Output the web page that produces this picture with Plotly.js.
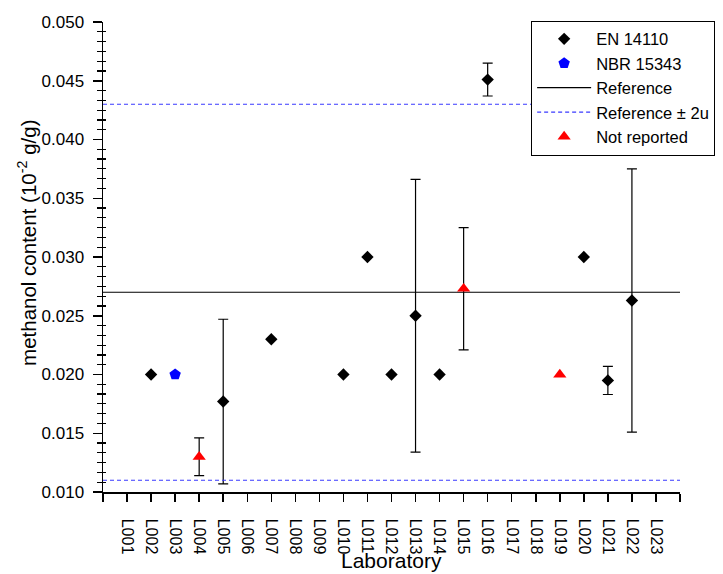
<!DOCTYPE html>
<html>
<head>
<meta charset="utf-8">
<script src="https://cdn.plot.ly/plotly-3.0.1.min.js"></script>
<style>
  html, body { margin: 0; padding: 0; background: #fff; }
  #chart { width: 723px; height: 574px; }
</style>
</head>
<body>
<div id="chart"></div>
<script>
// Participating laboratories (x axis categories)
const labs = ['L001','L002','L003','L004','L005','L006','L007','L008','L009','L010','L011','L012',
              'L013','L014','L015','L016','L017','L018','L019','L020','L021','L022','L023'];

// Results obtained with EN 14110
const enLabs   = ['L002','L005','L007','L010','L011','L012','L013','L014','L016','L020','L021','L022'];
const enValues = [0.0200, 0.0177, 0.0230, 0.0200, 0.0300, 0.0200, 0.0250, 0.0200, 0.0451, 0.0300, 0.0195, 0.0263];
const enErrors = [null,   0.0070, null,   null,   null,   null,   0.0116, null,   0.0014, null,   0.0012, 0.0112];

// Results obtained with NBR 15343
const nbrLabs   = ['L003'];
const nbrValues = [0.0200];

// Results whose method was not reported
const nrLabs   = ['L004','L015','L019'];
const nrValues = [0.0130, 0.0273, 0.0200];
const nrErrors = [0.0016, 0.0052, null];

// Reference value and its expanded-uncertainty limits
const refValue = 0.027;
const refLow   = 0.011;
const refHigh  = 0.043;

const yTicks = [0.010, 0.015, 0.020, 0.025, 0.030, 0.035, 0.040, 0.045, 0.050];

const pos = l => labs.indexOf(l) + 1;
const errs = a => a.map(v => (v === null ? NaN : v));
const xEnd = labs.length + 1;

const errStyle = { type: 'data', visible: true, color: '#000', thickness: 1.2, width: 5 };
const font = 'Liberation Sans, Arial, Helvetica, sans-serif';

const traces = [
  {
    name: 'EN 14110', type: 'scatter', mode: 'markers',
    x: enLabs.map(pos), y: enValues,
    error_y: Object.assign({ array: errs(enErrors) }, errStyle),
    marker: { symbol: 'diamond', size: 9.5, color: '#000' }
  },
  {
    name: 'NBR 15343', type: 'scatter', mode: 'markers',
    x: nbrLabs.map(pos), y: nbrValues,
    marker: { symbol: 'pentagon', size: 12, color: '#0000ff' }
  },
  {
    name: 'Reference', type: 'scatter', mode: 'lines',
    x: [0, xEnd], y: [refValue, refValue],
    line: { color: '#000', width: 1.2 }
  },
  {
    name: 'Reference ± 2u', type: 'scatter', mode: 'lines',
    x: [0, xEnd, null, 0, xEnd], y: [refHigh, refHigh, null, refLow, refLow],
    line: { color: '#3a3aff', width: 1.2, dash: '4px,3px' }
  },
  {
    name: 'Not reported', type: 'scatter', mode: 'markers',
    x: nrLabs.map(pos), y: nrValues,
    error_y: Object.assign({ array: errs(nrErrors) }, errStyle),
    marker: { symbol: 'triangle-up', size: 11.5, color: '#ff0000' }
  },
  // carrier for the inner half of the minor ticks
  { x: [], y: [], yaxis: 'y2', type: 'scatter', showlegend: false, hoverinfo: 'skip' }
];

const layout = {
  width: 723, height: 574,
  margin: { l: 103, r: 43, t: 22, b: 82, pad: 0, autoexpand: false },
  paper_bgcolor: '#fff', plot_bgcolor: '#fff',
  font: { family: font, color: '#000', size: 17 },
  showlegend: true,
  legend: {
    x: 0.742, y: 1.003, xanchor: 'left', yanchor: 'top',
    bgcolor: '#fff', bordercolor: '#000', borderwidth: 1,
    font: { family: font, size: 16.5, color: '#000' },
    itemwidth: 54, tracegroupgap: 0
  },
  xaxis: {
    range: [0, xEnd], autorange: false,
    tickmode: 'array', tickvals: labs.map(pos), ticktext: labs, tickangle: 90,
    ticks: 'outside', ticklen: 8, tickwidth: 1.5, tickcolor: '#000',
    minor: { ticks: 'outside', ticklen: 8, tickwidth: 1.5, tickcolor: '#000', dtick: 1, tick0: 0 },
    ticklabelstandoff: 14,
    tickfont: { family: font, size: 16, color: '#000' },
    showline: true, linecolor: '#000', linewidth: 1.5, mirror: false,
    showgrid: false, zeroline: false, automargin: false
  },
  yaxis: {
    range: [0.010, 0.050], autorange: false,
    tickmode: 'array', tickvals: yTicks, tickformat: '.3f',
    ticks: 'outside', ticklen: 9, tickwidth: 1.5, tickcolor: '#000',
    ticklabelstandoff: 5,
    tickfont: { family: font, size: 17, color: '#000' },
    minor: { ticks: 'outside', ticklen: 5, tickwidth: 1.2, tickcolor: '#000', dtick: 0.005 / 6, tick0: 0.010 },
    showline: true, linecolor: '#000', linewidth: 1.5, mirror: false,
    showgrid: false, zeroline: false, automargin: false
  },
  yaxis2: {
    overlaying: 'y', anchor: 'x', side: 'left',
    range: [0.010, 0.050], autorange: false,
    dtick: 0.005, tick0: 0.010, ticks: '', showticklabels: false,
    minor: { ticks: 'inside', ticklen: 2.5, tickwidth: 1.2, tickcolor: '#000', dtick: 0.005 / 6, tick0: 0.010 },
    showline: false, showgrid: false, zeroline: false, automargin: false
  },
  annotations: [
    {
      text: 'Laboratory', xref: 'paper', yref: 'paper',
      x: 0.4995, y: -0.1468, xanchor: 'center', yanchor: 'middle',
      showarrow: false, font: { family: font, size: 21, color: '#000' }
    },
    {
      text: 'methanol content (10<sup>-2</sup> g/g)', xref: 'paper', yref: 'paper',
      x: -0.1317, y: 0.53, xanchor: 'center', yanchor: 'middle', textangle: -90,
      showarrow: false, font: { family: font, size: 20.5, color: '#000' }
    }
  ]
};

Plotly.newPlot('chart', traces, layout, { staticPlot: true, displayModeBar: false });
</script>
</body>
</html>
